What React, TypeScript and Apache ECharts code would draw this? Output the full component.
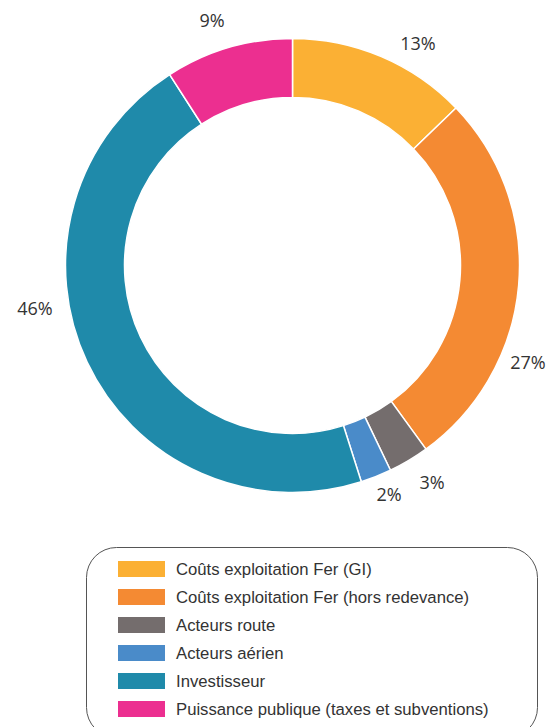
import React, { useEffect, useRef } from "react";
import * as echarts from "echarts";

const categories = [
  "Coûts exploitation Fer (GI)",
  "Coûts exploitation Fer (hors redevance)",
  "Acteurs route",
  "Acteurs aérien",
  "Investisseur",
  "Puissance publique (taxes et subventions)",
];
const values = [12.8, 27.2, 2.9, 2.2, 45.8, 9.1];
const colors = ["#FBB034", "#F48A33", "#746D6D", "#4A8BC9", "#1F8AAA", "#EC2F90"];

// label anchor positions (layout only)
const labelPos = [
  [418, 43],
  [528, 362],
  [432, 482],
  [389, 494],
  [35, 308],
  [212, 20],
];

export default function App() {
  const ref = useRef<HTMLDivElement>(null);
  useEffect(() => {
    if (!ref.current) return;
    const chart = echarts.init(ref.current, null, { renderer: "svg" });
    const data = categories.map((name, i) => ({
      name,
      value: values[i],
      itemStyle: { color: colors[i] },
    }));
    chart.setOption({
      animation: false,
      backgroundColor: "#ffffff",
      legend: {
        orient: "vertical",
        left: 116,
        top: 559,
        height: 200,
        padding: 0,
        itemWidth: 49,
        itemHeight: 18,
        itemGap: 8,
        icon: "rect",
        selectedMode: false,
        textStyle: {
          fontFamily: "Liberation Sans",
          fontSize: 16.7,
          lineHeight: 18,
          color: "#333333",
          padding: [0, 0, 0, 5],
        },
        data: categories,
      },
      graphic: [
        {
          type: "rect",
          shape: { x: 86.5, y: 547.5, width: 451, height: 190, r: 30 },
          style: { fill: "none", stroke: "#555555", lineWidth: 1 },
          silent: true,
          z: -1,
        },
      ],
      series: [
        {
          type: "pie",
          center: [292.5, 265.5],
          radius: [168, 227],
          startAngle: 90,
          clockwise: true,
          avoidLabelOverlap: false,
          label: {
            show: true,
            position: "outside",
            formatter: (p: any) => Math.round(p.percent) + "%",
            fontFamily: "Open Sans",
            fontSize: 18,
            color: "#333333",
          },
          labelLine: { show: false },
          labelLayout: (p: any) => ({
            x: labelPos[p.dataIndex][0],
            y: labelPos[p.dataIndex][1],
            align: "center",
            verticalAlign: "middle",
          }),
          itemStyle: { borderColor: "#ffffff", borderWidth: 1.5 },
          emphasis: { disabled: true },
          data,
        },
      ],
    });
    return () => chart.dispose();
  }, []);
  return (
    <div
      ref={ref}
      style={{ position: "fixed", left: 0, top: 0, width: 547, height: 727 }}
    />
  );
}
